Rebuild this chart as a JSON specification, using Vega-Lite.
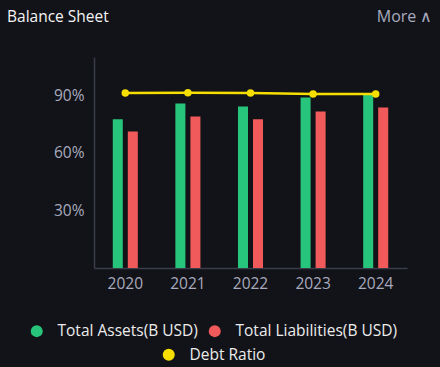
{
  "$schema": "https://vega.github.io/schema/vega-lite/v6.json",
  "width": 313,
  "height": 211,
  "autosize": {"type": "none"},
  "padding": {"left": 94, "top": 57, "right": 33, "bottom": 99},
  "background": "#121318",
  "title": {
    "text": "Balance Sheet",
    "anchor": "start",
    "frame": "group",
    "dx": -87,
    "dy": 21,
    "fontSize": 15.5,
    "fontWeight": 500,
    "font": "Open Sans",
    "color": "#f4f4f4"
  },
  "config": {
    "view": {"stroke": null},
    "font": "Open Sans"
  },
  "datasets": {
    "bars": [
      {"year": "2020", "series": "Total Assets(B USD)", "value": 77.5},
      {"year": "2020", "series": "Total Liabilities(B USD)", "value": 71.2},
      {"year": "2021", "series": "Total Assets(B USD)", "value": 85.8},
      {"year": "2021", "series": "Total Liabilities(B USD)", "value": 79.0},
      {"year": "2022", "series": "Total Assets(B USD)", "value": 84.2},
      {"year": "2022", "series": "Total Liabilities(B USD)", "value": 77.5},
      {"year": "2023", "series": "Total Assets(B USD)", "value": 88.9},
      {"year": "2023", "series": "Total Liabilities(B USD)", "value": 81.6},
      {"year": "2024", "series": "Total Assets(B USD)", "value": 91.0},
      {"year": "2024", "series": "Total Liabilities(B USD)", "value": 83.7}
    ],
    "ratio": [
      {"year": "2020", "ratio": 0.912},
      {"year": "2021", "ratio": 0.914},
      {"year": "2022", "ratio": 0.912},
      {"year": "2023", "ratio": 0.907},
      {"year": "2024", "ratio": 0.907}
    ]
  },
  "encoding": {
    "x": {
      "field": "year",
      "type": "nominal",
      "scale": {"paddingInner": 0.6, "paddingOuter": 0.3},
      "axis": {
        "title": null,
        "labelAngle": 0,
        "labelColor": "#a8aabd",
        "labelFontSize": 15.5,
        "labelPadding": 8,
        "ticks": false,
        "domainColor": "#3a3c48",
        "domainWidth": 1.5,
        "grid": false
      }
    }
  },
  "layer": [
    {
      "data": {"name": "bars"},
      "mark": {"type": "bar"},
      "encoding": {
        "xOffset": {
          "field": "series",
          "type": "nominal",
          "scale": {"paddingInner": 0.3333, "paddingOuter": 0}
        },
        "y": {
          "field": "value",
          "type": "quantitative",
          "scale": {"domain": [0, 110], "nice": false},
          "axis": {
            "orient": "right",
            "labels": false,
            "ticks": false,
            "domain": false,
            "grid": false,
            "title": "More ∧",
            "titleAngle": 0,
            "titleAlign": "right",
            "titleBaseline": "middle",
            "titleX": 25,
            "titleY": -41,
            "titleColor": "#a9abc0",
            "titleFontSize": 16,
            "titleFontWeight": "normal"
          }
        },
        "fill": {
          "field": "series",
          "type": "nominal",
          "scale": {
            "domain": ["Total Assets(B USD)", "Total Liabilities(B USD)"],
            "range": ["#27c47b", "#f05a5a"]
          },
          "legend": {
            "title": null,
            "orient": "none",
            "direction": "horizontal",
            "legendX": -65,
            "legendY": 266,
            "symbolType": "circle",
            "symbolSize": 144,
            "symbolStrokeWidth": 0,
            "labelFontSize": 15.5,
            "labelColor": "#ececec",
            "labelOffset": 13,
            "columnPadding": 9,
            "labelLimit": 300
          }
        }
      }
    },
    {
      "data": {"name": "ratio"},
      "mark": {"type": "line", "strokeWidth": 2.5, "point": {"filled": true, "size": 30, "color": "#f5de00"}},
      "encoding": {
        "y": {
          "field": "ratio",
          "type": "quantitative",
          "scale": {"domain": [0, 1.1], "nice": false},
          "axis": {
            "orient": "left",
            "title": null,
            "values": [0.3, 0.6, 0.9],
            "format": ".0%",
            "grid": false,
            "ticks": false,
            "labelColor": "#a8aabd",
            "labelFontSize": 15.5,
            "labelPadding": 10,
            "domainColor": "#3a3c48",
            "domainWidth": 1.5
          }
        },
        "stroke": {
          "datum": "Debt Ratio",
          "scale": {"range": ["#f5de00"]},
          "legend": {
            "title": null,
            "orient": "none",
            "legendX": 67,
            "legendY": 290,
            "symbolType": "circle",
            "symbolSize": 144,
            "symbolFillColor": "#f5de00",
            "symbolStrokeWidth": 0,
            "labelFontSize": 15.5,
            "labelColor": "#ececec",
            "labelOffset": 13
          }
        }
      }
    }
  ],
  "resolve": {"scale": {"y": "independent"}}
}
